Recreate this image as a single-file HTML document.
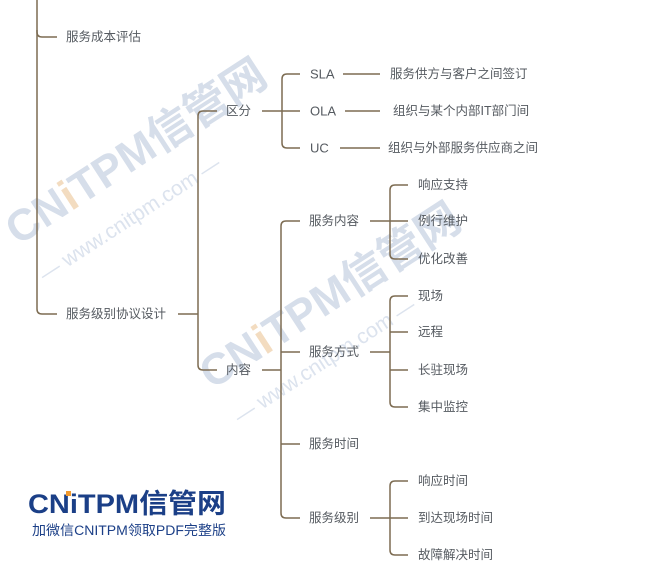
<!DOCTYPE html>
<html><head><meta charset="utf-8"><style>
html,body{margin:0;padding:0;background:#fff;}
svg{display:block;}
.t{font-family:"Liberation Sans","Noto Sans CJK SC",sans-serif;font-size:12.5px;fill:#555a60;}
.wm{font-family:"Liberation Sans","Noto Sans CJK SC",sans-serif;font-weight:bold;fill:#d6deea;}
.ww{font-family:"Liberation Sans","Noto Sans CJK SC",sans-serif;fill:#dce3ee;}
</style></head><body>
<svg width="664" height="581" viewBox="0 0 664 581" xmlns="http://www.w3.org/2000/svg">
<!-- watermarks -->
<g transform="translate(18,246) rotate(-33)"><text class="wm" x="0" y="0" font-size="44">CN<tspan fill="#f3dcc0">i</tspan>TPM信管网</text></g>
<g transform="translate(45,282) rotate(-33)"><text class="ww" x="0" y="0" font-size="21">— www.cnitpm.com —</text></g>
<g transform="translate(212,390) rotate(-33)"><text class="wm" x="0" y="0" font-size="44">CN<tspan fill="#f3dcc0">i</tspan>TPM信管网</text></g>
<g transform="translate(240,424) rotate(-33)"><text class="ww" x="0" y="0" font-size="21">— www.cnitpm.com —</text></g>

<g fill="none" stroke="#7d6c52" stroke-width="1.5">
<!-- main -->
<path d="M37 0 V32 Q37 37 42 37 H57"/>
<path d="M37 30 V309 Q37 314 42 314 H57"/>
<path d="M178 314 H198"/>
<path d="M217 111 H203 Q198 111 198 116 V365 Q198 370 203 370 H217"/>
<!-- 区分 -->
<path d="M262 111 H300"/>
<path d="M300 74 H287 Q282 74 282 79 V143 Q282 148 287 148 H300"/>
<path d="M343 74 H380 M345 111 H380 M340 148 H380"/>
<!-- 内容 -->
<path d="M262 370 H281"/>
<path d="M300 221 H286 Q281 221 281 226 V513 Q281 518 286 518 H300"/>
<path d="M281 352 H300 M281 444 H300"/>
<!-- 服务内容 -->
<path d="M370 221 H408"/>
<path d="M408 185 H395 Q390 185 390 190 V254 Q390 259 395 259 H408"/>
<!-- 服务方式 -->
<path d="M370 352 H390"/>
<path d="M408 296 H395 Q390 296 390 301 V402 Q390 407 395 407 H408"/>
<path d="M390 332 H408 M390 370 H408"/>
<!-- 服务级别 -->
<path d="M370 518 H408"/>
<path d="M408 481 H395 Q390 481 390 486 V550 Q390 555 395 555 H408"/>
</g>

<g class="t" dominant-baseline="central">
<text x="66" y="37">服务成本评估</text>
<text x="66" y="314">服务级别协议设计</text>
<text x="226" y="111">区分</text>
<text x="226" y="370">内容</text>
<text x="310" y="74" font-size="13">SLA</text>
<text x="310" y="111" font-size="13">OLA</text>
<text x="310" y="148" font-size="13">UC</text>
<text x="390" y="74">服务供方与客户之间签订</text>
<text x="393" y="111">组织与某个内部IT部门间</text>
<text x="388" y="148">组织与外部服务供应商之间</text>
<text x="309" y="221">服务内容</text>
<text x="309" y="352">服务方式</text>
<text x="309" y="444">服务时间</text>
<text x="309" y="518">服务级别</text>
<text x="418" y="185">响应支持</text>
<text x="418" y="221">例行维护</text>
<text x="418" y="259">优化改善</text>
<text x="418" y="296">现场</text>
<text x="418" y="332">远程</text>
<text x="418" y="370">长驻现场</text>
<text x="418" y="407">集中监控</text>
<text x="418" y="481">响应时间</text>
<text x="418" y="518">到达现场时间</text>
<text x="418" y="555">故障解决时间</text>
</g>

<!-- logo -->
<text x="28" y="513" font-family="Liberation Sans,Noto Sans CJK SC,sans-serif" font-weight="bold" font-size="27" fill="#1b3f87" textLength="198" lengthAdjust="spacingAndGlyphs">CN<tspan fill="#1b3f87">i</tspan>TPM信管网</text>
<rect x="66" y="491" width="5" height="5" fill="#f29a2e"/>
<text x="32" y="535" font-family="Liberation Sans,Noto Sans CJK SC,sans-serif" font-size="13.5" fill="#1b3f87" textLength="194" lengthAdjust="spacingAndGlyphs">加微信CNITPM领取PDF完整版</text>
</svg>
</body></html>
